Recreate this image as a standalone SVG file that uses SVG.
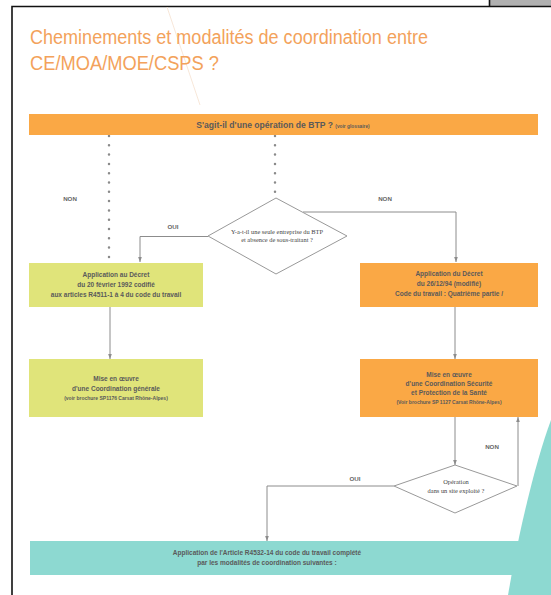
<svg xmlns="http://www.w3.org/2000/svg" width="551" height="595" viewBox="0 0 551 595">
<defs>
<style>
.t{font-family:"Liberation Sans",Arial,sans-serif;font-weight:bold;fill:#5a5a5a;text-anchor:middle;font-size:6.5px}
.s{font-size:5px}
.d{font-family:"Liberation Serif","Times New Roman",serif;fill:#444;text-anchor:middle;font-size:6.4px}
.lb{font-family:"Liberation Sans",Arial,sans-serif;font-weight:bold;fill:#666;text-anchor:middle;font-size:6.2px}
.c{fill:none;stroke:#8c8c8c;stroke-width:1}
.dot{fill:none;stroke:#8a8a8a;stroke-width:2.5;stroke-linecap:round;stroke-dasharray:0 9.3}
.title{font-family:"Liberation Sans Narrow","Liberation Sans",Arial,sans-serif;fill:#f3a25b;font-size:20px}
</style>
<marker id="ah" viewBox="0 0 6 6" refX="6" refY="3" markerWidth="5" markerHeight="5" orient="auto" markerUnits="userSpaceOnUse">
<path d="M0,0.8 L6,3 L0,5.2 Z" fill="#8c8c8c"/>
</marker>
</defs>
<rect x="0" y="0" width="551" height="595" fill="#fff"/>
<rect x="490" y="0" width="61" height="6" fill="#b0b0b0"/>
<path d="M12,595 V6.5 H551 M489.5,0 V6.5" fill="none" stroke="#111" stroke-width="1.6"/>
<line x1="167" y1="7" x2="200" y2="105" stroke="#f5e1cf" stroke-width="0.8"/>
<path d="M551,420 C538,455 524,510 513,567 L508,595 L551,595 Z" fill="#8dd9d1"/>

<g id="title">
<text class="title" x="30" y="44" textLength="398" lengthAdjust="spacingAndGlyphs">Cheminements et modalités de coordination entre</text>
<text class="title" x="30" y="70" textLength="189" lengthAdjust="spacingAndGlyphs">CE/MOA/MOE/CSPS ?</text>
</g>

<g id="connectors">
<line class="dot" x1="109" y1="136" x2="109" y2="259"/>
<line class="dot" x1="275" y1="136" x2="275" y2="193"/>
<polyline class="c" points="208,236.5 140,236.5 140,262" marker-end="url(#ah)"/>
<polyline class="c" points="303,212 456,212 456,262" marker-end="url(#ah)"/>
<line class="c" x1="110" y1="307" x2="110" y2="359" marker-end="url(#ah)"/>
<line class="c" x1="455" y1="307" x2="455" y2="359" marker-end="url(#ah)"/>
<line class="c" x1="455" y1="417" x2="455" y2="465" marker-end="url(#ah)"/>
<polyline class="c" points="518,486 518,417" marker-end="url(#ah)"/>
<polyline class="c" points="394,486 267,486 267,541" marker-end="url(#ah)"/>
<text class="lb" x="70" y="201">NON</text>
<text class="lb" x="173" y="229">OUI</text>
<text class="lb" x="385" y="201">NON</text>
<text class="lb" x="492" y="449">NON</text>
<text class="lb" x="355" y="481">OUI</text>
</g>

<g id="q1">
<rect x="29" y="114" width="509" height="21" fill="#faa845"/>
<text class="t" x="283" y="128" style="font-size:8.6px">S'agit-il d'une opération de BTP ? <tspan style="font-size:4.8px">(voir glossaire)</tspan></text>
</g>

<g id="q2">
<polygon points="276,198 347,236 276,274 208,236" fill="#fff" stroke="#999" stroke-width="1"/>
<text class="d" x="277" y="234">Y-a-t-il une seule entreprise du BTP</text>
<text class="d" x="277" y="242">et absence de sous-traitant ?</text>
</g>

<g id="decret92">
<rect x="29" y="263" width="174" height="44" fill="#e0e47a"/>
<text class="t" x="116" y="277">Application au Décret</text>
<text class="t" x="116" y="287">du 20 février 1992 codifié</text>
<text class="t" x="116" y="297">aux articles R4511-1 à 4 du code du travail</text>
</g>

<g id="coordgen">
<rect x="29" y="359" width="174" height="58" fill="#e0e47a"/>
<text class="t" x="116" y="381">Mise en œuvre</text>
<text class="t" x="116" y="391">d'une Coordination générale</text>
<text class="t s" x="116" y="400">(voir brochure SP1176 Carsat Rhône-Alpes)</text>
</g>

<g id="decret94">
<rect x="360" y="263" width="178" height="44" fill="#faa845"/>
<text class="t" x="449" y="276">Application du Décret</text>
<text class="t" x="449" y="286">du 26/12/94 (modifié)</text>
<text class="t" x="449" y="296">Code du travail : Quatrième partie /</text>
</g>

<g id="csps">
<rect x="360" y="359" width="178" height="58" fill="#faa845"/>
<text class="t" x="449" y="377">Mise en œuvre</text>
<text class="t" x="449" y="386">d'une Coordination Sécurité</text>
<text class="t" x="449" y="395">et Protection de la Santé</text>
<text class="t s" x="449" y="404">(Voir brochure SP 1127 Carsat Rhône-Alpes)</text>
</g>

<g id="q3">
<polygon points="455,465 517,486 455,513 394,486" fill="#fff" stroke="#999" stroke-width="1"/>
<text class="d" x="456" y="484">Opération</text>
<text class="d" x="456" y="493">dans un site exploité ?</text>
</g>

<g id="article">
<rect x="30" y="541" width="500" height="34" fill="#8dd9d1"/>
<text class="t" x="267" y="555">Application  de l'Article R4532-14 du code du travail complété</text>
<text class="t" x="267" y="565">par les modalités de coordination suivantes :</text>
</g>
</svg>
